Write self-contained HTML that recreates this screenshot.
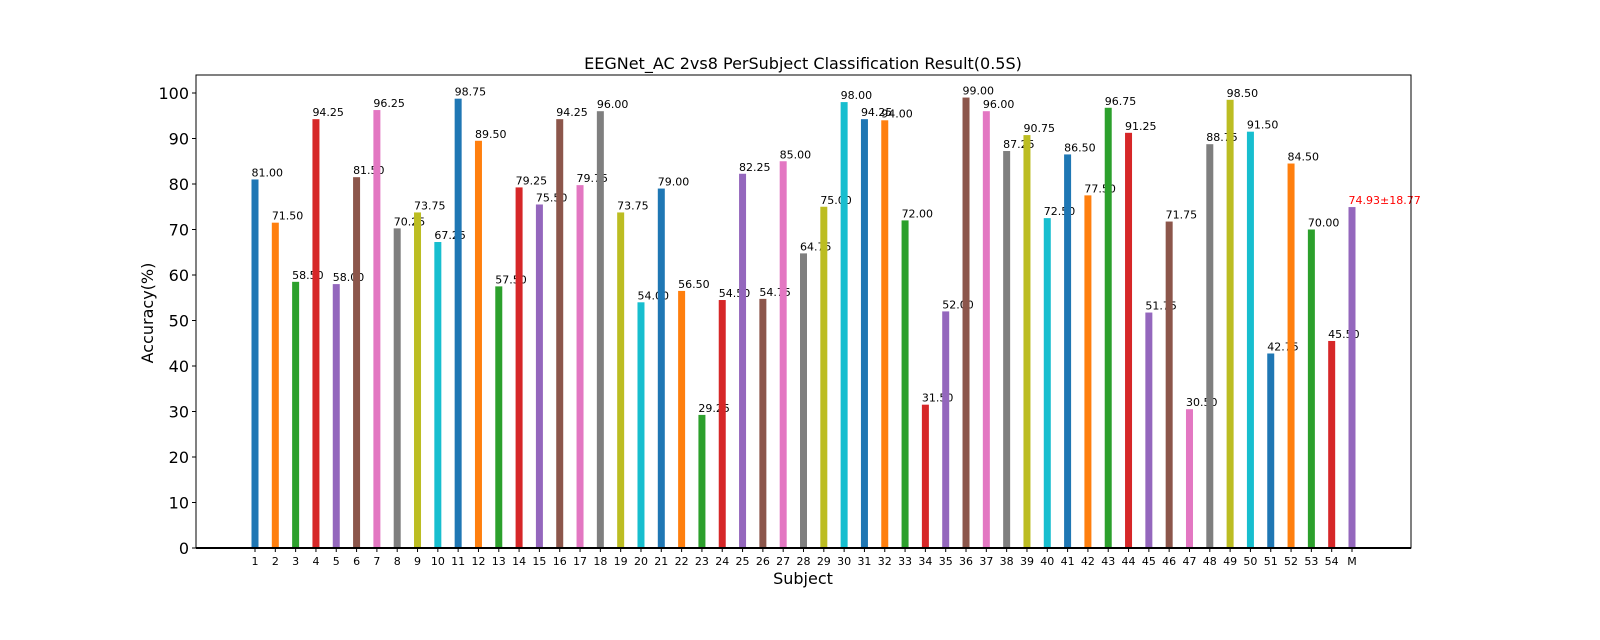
<!DOCTYPE html>
<html><head><meta charset="utf-8"><style>
html,body{margin:0;padding:0;background:#fff;overflow:hidden;width:1600px;height:640px;}
svg{display:block;font-family:"DejaVu Sans","Liberation Sans",sans-serif;}
</style></head><body>
<svg id="chart" width="1600" height="640" viewBox="0 0 1600 640">
<text x="803" y="69" font-size="16" text-anchor="middle">EEGNet_AC 2vs8 PerSubject Classification Result(0.5S)</text>
<text x="0" y="0" font-size="16" text-anchor="middle" transform="translate(153,313) rotate(-90)">Accuracy(%)</text>
<text x="803" y="584" font-size="16" text-anchor="middle">Subject</text>
<g id="bars"></g><g id="ticks"></g>
<rect x="196" y="75" width="1215" height="473" fill="none" stroke="#000" stroke-width="1"/>
<line x1="196" y1="548" x2="1411" y2="548" stroke="#000" stroke-width="2"/>
</svg>
<script>
const categories=[];for(let i=1;i<=54;i++)categories.push(String(i));categories.push('M');
const values=[81,71.5,58.5,94.25,58,81.5,96.25,70.25,73.75,67.25,98.75,89.5,57.5,79.25,75.5,94.25,79.75,96,73.75,54,79,56.5,29.25,54.5,82.25,54.75,85,64.75,75,98,94.25,94,72,31.5,52,99,96,87.25,90.75,72.5,86.5,77.5,96.75,91.25,51.75,71.75,30.5,88.75,98.5,91.5,42.75,84.5,70,45.5,74.93];
const meanLabel="74.93±18.77";
const yTicks=[0,10,20,30,40,50,60,70,80,90,100];
const colors=['#1f77b4','#ff7f0e','#2ca02c','#d62728','#9467bd','#8c564b','#e377c2','#7f7f7f','#bcbd22','#17becf'];
const NS='http://www.w3.org/2000/svg';
const xS=i=>255+i*(1352-255)/54;
const yS=v=>548-v*4.55;
const bars=document.getElementById('bars'),ticks=document.getElementById('ticks');
function mk(tag,attrs,parent){const e=document.createElementNS(NS,tag);for(const k in attrs)e.setAttribute(k,attrs[k]);parent.appendChild(e);return e;}
values.forEach((v,i)=>{
  const x=xS(i),w=7;
  const r=mk('rect',{x:x-w/2,y:yS(v),width:w,height:548-yS(v),fill:colors[i%10]},bars);
  
  
  const isM=categories[i]==='M';
  const t=mk('text',{x:x-w/2,y:yS(v)-3,'font-size':11,fill:isM?'#ff0000':'#000'},bars);
  t.textContent=isM?meanLabel:v.toFixed(2);
  
  
  mk('line',{x1:x,x2:x,y1:548,y2:552,stroke:'#000'},ticks);
  const tl=mk('text',{x:x,y:565,'font-size':11,'text-anchor':'middle'},ticks);
  tl.textContent=categories[i];
  
  
});
yTicks.forEach(v=>{
  const y=yS(v);
  mk('line',{x1:192,x2:196,y1:y,y2:y,stroke:'#000'},ticks);
  const t=mk('text',{x:189,y:y+6,'font-size':16,'text-anchor':'end'},ticks);
  t.textContent=v;
  
  
});
</script>
</body></html>
